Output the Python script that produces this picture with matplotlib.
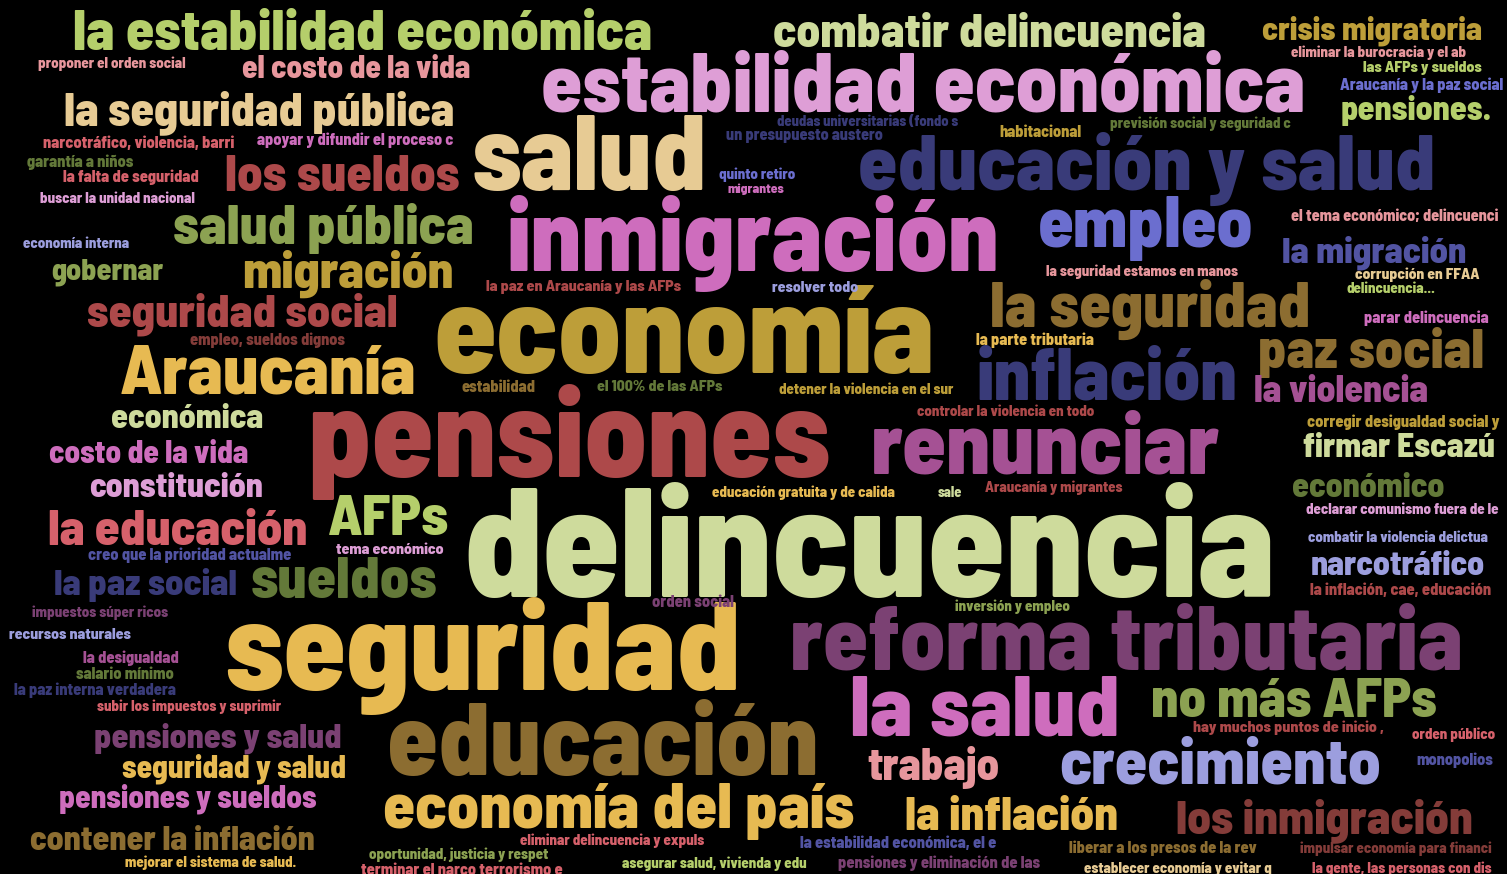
import matplotlib
matplotlib.use("Agg")
import matplotlib.pyplot as plt
from matplotlib import font_manager
from matplotlib.font_manager import FontProperties
from matplotlib.textpath import TextPath

# palabras de la nube (respuestas abiertas)
words = [
    "la estabilidad económica", "combatir delincuencia", "crisis migratoria",
    "el costo de la vida", "estabilidad económica", "la seguridad pública",
    "salud", "educación y salud", "los sueldos", "salud pública",
    "inmigración", "empleo", "la migración", "gobernar", "migración",
    "economía", "la seguridad", "seguridad social", "Araucanía", "paz social",
    "inflación", "la violencia", "pensiones", "renunciar", "económica",
    "costo de la vida", "constitución", "firmar Escazú", "económico",
    "la educación", "AFPs", "delincuencia", "la paz social", "sueldos",
    "narcotráfico", "seguridad", "reforma tributaria", "la salud",
    "no más AFPs", "educación", "trabajo", "crecimiento", "pensiones y salud",
    "seguridad y salud", "pensiones y sueldos", "economía del país",
    "la inflación", "los inmigración", "contener la inflación", "pensiones.",
    # frases pequeñas
    "proponer el orden social", "narcotráfico, violencia, barri",
    "apoyar y difundir el proceso c", "garantía a niños", "la falta de seguridad",
    "buscar la unidad nacional", "economía interna",
    "deudas universitarias (fondo s", "un presupuesto austero", "quinto retiro",
    "migrantes", "la paz en Araucanía y las AFPs", "resolver todo",
    "eliminar la burocracia y el ab", "las AFPs y sueldos",
    "Araucanía y la paz social", "previsión social y seguridad c", "habitacional",
    "el tema económico; delincuenci", "la seguridad estamos en manos",
    "corrupción en FFAA", "delincuencia...", "empleo, sueldos dignos",
    "estabilidad", "creo que la prioridad actualme", "tema económico",
    "el 100% de las AFPs", "detener la violencia en el sur",
    "controlar la violencia en todo", "educación gratuita y de calida", "sale",
    "la parte tributaria", "Araucanía y migrantes", "parar delincuencia",
    "corregir desigualdad social y", "declarar comunismo fuera de le",
    "combatir la violencia delictua", "la inflación, cae, educación",
    "impuestos súper ricos", "recursos naturales", "la desigualdad",
    "salario mínimo", "la paz interna verdadera", "subir los impuestos y suprimir",
    "mejorar el sistema de salud.", "oportunidad, justicia y respet",
    "terminar el narco terrorismo e", "orden social", "inversión y empleo",
    "eliminar delincuencia y expuls", "asegurar salud, vivienda y edu",
    "la estabilidad económica, el e", "pensiones y eliminación de las",
    "hay muchos puntos de inicio ,", "orden público", "monopolios",
    "liberar a los presos de la rev", "impulsar economía para financi",
    "establecer economía y evitar q", "la gente, las personas con dis",
]

# caja de cada palabra en pixeles: izquierda, derecha, arriba, linea base
boxes = [
    (63, 662, 8, 50), (762, 1217, 12, 47), (1247, 1497, 15, 39),
    (223, 490, 55, 78), (532, 1315, 50, 111), (53, 466, 90, 125),
    (475, 704, 113, 190), (856, 1437, 132, 190), (226, 458, 155, 191), (162, 484, 203, 244),
    (498, 1008, 196, 271), (1030, 1262, 197, 247), (1278, 1470, 235, 262),
    (37, 177, 258, 279), (227, 469, 250, 288),
    (437, 931, 284, 373), (969, 1332, 280, 327), (72, 412, 293, 327),
    (122, 415, 343, 393), (1255, 1488, 327, 368),
    (979, 1235, 346, 400), (1255, 1427, 373, 402), (293, 845, 385, 477),
    (860, 1232, 408, 473), (103, 272, 403, 428),
    (33, 265, 440, 463), (82, 270, 472, 497), (1298, 1500, 432, 457), (1285, 1452, 472, 497),
    (48, 307, 508, 545), (328, 447, 488, 535), (457, 1281, 482, 597),
    (52, 238, 568, 595), (250, 437, 557, 598),
    (1303, 1492, 550, 575), (198, 767, 597, 690), (793, 1460, 603, 670), (847, 1122, 675, 735),
    (1152, 1435, 675, 717), (383, 823, 700, 775), (862, 1005, 747, 780),
    (1045, 1395, 735, 783), (82, 353, 722, 747),
    (100, 367, 755, 778), (33, 342, 785, 808), (380, 858, 783, 828),
    (898, 1125, 795, 830), (1167, 1482, 798, 833), (17, 328, 825, 850), (1333, 1499, 95, 120),
    (30, 193, 57, 68), (43, 235, 136, 148),
    (257, 453, 133, 145), (27, 133, 155, 167), (63, 199, 170, 182),
    (32, 203, 192, 203), (19, 133, 237, 248),
    (767, 969, 115, 126), (726, 882, 129, 140), (716, 798, 168, 179),
    (723, 788, 183, 193), (486, 681, 279, 291), (770, 860, 281, 292),
    (1282, 1475, 46, 57), (1363, 1482, 61, 72),
    (1340, 1503, 78, 90), (1100, 1300, 117, 128), (1000, 1081, 125, 137),
    (1291, 1498, 208, 221), (1038, 1246, 265, 276),
    (1355, 1479, 267, 279), (1343, 1439, 282, 293), (190, 344, 333, 345),
    (462, 536, 380, 392), (88, 292, 548, 560), (336, 443, 542, 554),
    (597, 722, 379, 391), (769, 963, 383, 394),
    (908, 1103, 405, 416), (704, 903, 486, 497), (936, 964, 487, 497),
    (975, 1094, 333, 345), (980, 1127, 481, 492), (1363, 1490, 311, 323),
    (1305, 1501, 415, 427), (1298, 1507, 503, 514),
    (1299, 1497, 531, 542), (1310, 1492, 583, 595),
    (26, 174, 606, 617), (6, 133, 628, 639), (82, 179, 651, 663),
    (75, 174, 667, 679), (14, 176, 683, 695), (89, 290, 700, 711),
    (117, 304, 856, 867), (362, 555, 848, 859),
    (362, 562, 863, 875), (652, 733, 595, 607), (950, 1074, 600, 611),
    (513, 712, 834, 845), (613, 815, 857, 868),
    (800, 997, 836, 848), (838, 1041, 856, 868),
    (1193, 1383, 719, 732), (1408, 1499, 728, 739), (1417, 1493, 753, 765),
    (1068, 1258, 841, 853), (1292, 1500, 842, 853),
    (1077, 1278, 862, 873), (1304, 1500, 862, 873),
]

colors = [
    "#b5cf6b", "#cedb9c", "#bd9e39",
    "#e7969c", "#de9ed6", "#e7cb94",
    "#e7cb94", "#393b79", "#ad494a", "#8ca252",
    "#ce6dbd", "#6b6ecf", "#5254a3", "#8ca252", "#bd9e39",
    "#bd9e39", "#8c6d31", "#ad494a", "#e7ba52", "#8c6d31",
    "#393b79", "#a55194", "#ad494a", "#a55194", "#cedb9c",
    "#ce6dbd", "#de9ed6", "#cedb9c", "#637939",
    "#d6616b", "#b5cf6b", "#cedb9c", "#393b79", "#637939",
    "#9c9ede", "#e7ba52", "#7b4173", "#ce6dbd",
    "#8ca252", "#8c6d31", "#e7969c", "#9c9ede", "#7b4173",
    "#e7ba52", "#ce6dbd", "#e7ba52",
    "#e7ba52", "#843c39", "#8c6d31", "#b5cf6b",
    "#e7969c", "#d6616b",
    "#ce6dbd", "#637939", "#d6616b",
    "#de9ed6", "#9c9ede",
    "#393b79", "#393b79", "#6b6ecf",
    "#ce6dbd", "#ad494a", "#9c9ede",
    "#e7969c", "#b5cf6b",
    "#6b6ecf", "#637939", "#bd9e39",
    "#e7969c", "#e7969c",
    "#e7cb94", "#b5cf6b", "#843c39",
    "#8c6d31", "#5254a3", "#de9ed6",
    "#637939", "#bd9e39",
    "#ad494a", "#e7ba52", "#cedb9c",
    "#e7ba52", "#ad494a", "#ce6dbd",
    "#bd9e39", "#de9ed6",
    "#9c9ede", "#ad494a",
    "#7b4173", "#9c9ede", "#a55194",
    "#637939", "#393b79", "#d6616b",
    "#e7ba52", "#8ca252",
    "#d6616b", "#7b4173", "#8ca252",
    "#d6616b", "#b5cf6b",
    "#5254a3", "#7b4173",
    "#ad494a", "#d6616b", "#5254a3",
    "#8c6d31", "#843c39",
    "#e7cb94", "#d6616b",
]

# fuente condensada: se elige la que tenga proporciones mas cercanas a Impact
names = {f.name for f in font_manager.fontManager.ttflist}
candidatas = [("Anton", "normal"), ("Special Gothic Condensed One", "normal"),
              ("Fira Sans Condensed", 800), ("Fira Sans Extra Condensed", 800),
              ("Barlow Condensed", 800), ("Barlow Semi Condensed", 800),
              ("Encode Sans Condensed", 800), ("Saira SemiCondensed", 800),
              ("Roboto Condensed", 700)]
fam, peso, mejor = "DejaVu Sans", "bold", None
for nombre, p in candidatas:
    if nombre not in names:
        continue
    ext = TextPath((0, 0), "delincuencia", size=40,
                   prop=FontProperties(family=nombre, weight=p)).get_extents()
    dif = abs(ext.width / ext.ymax - 825 / 115)
    if mejor is None or dif < mejor:
        fam, peso, mejor = nombre, p, dif
prop = FontProperties(family=fam, weight=peso)

W, H = 1507, 874
fig = plt.figure(figsize=(W / 100, H / 100), dpi=100, facecolor="black")
ax = fig.add_axes([0, 0, 1, 1])
ax.set_facecolor("black")
ax.set_xlim(0, W)
ax.set_ylim(H, 0)
ax.axis("off")

for w, (x0, x1, top, base), c in zip(words, boxes, colors):
    ext = TextPath((0, 0), w, size=40, prop=prop).get_extents()
    # pixeles por punto a 100 dpi: 100/72
    f_alto = (base - top) * 40 * 72 / (100 * ext.ymax)
    f_ancho = (x1 - x0) * 40 * 72 / (100 * ext.width)
    ax.text((x0 + x1) / 2, base, w, color=c, fontproperties=prop,
            fontsize=min(f_alto, f_ancho), ha="center", va="baseline")

fig.savefig("out.png", dpi=100, facecolor="black")
